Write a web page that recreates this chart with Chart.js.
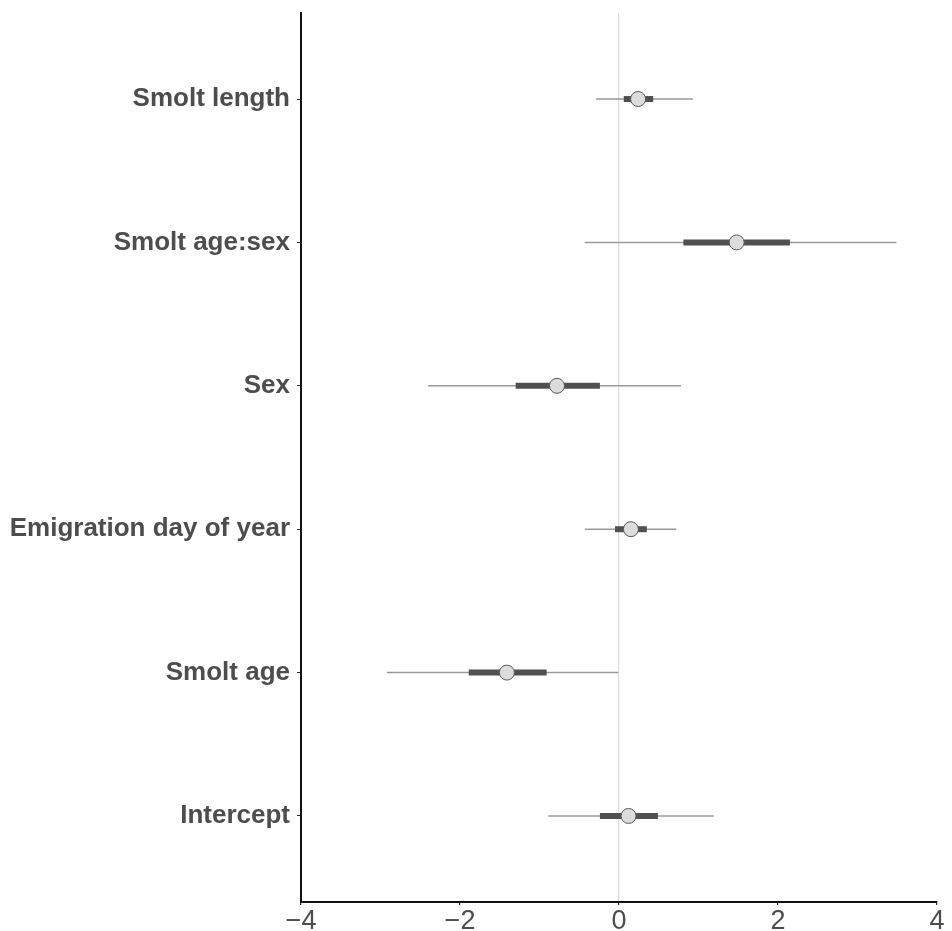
<!DOCTYPE html>
<html>
<head>
<meta charset="utf-8">
<script src="https://cdn.jsdelivr.net/npm/chart.js@4.4.1/dist/chart.umd.min.js"></script>
<style>
  html, body { margin: 0; padding: 0; background: #fff; }
  #wrap { width: 952px; height: 931px; }
</style>
</head>
<body>
<div id="wrap"><canvas id="chart" width="952" height="931"></canvas></div>
<script>
// Coefficient names, bottom to top
const terms = ['Intercept', 'Smolt age', 'Emigration day of year', 'Sex', 'Smolt age:sex', 'Smolt length'];
// Posterior medians
const estimate = [0.12, -1.41, 0.15, -0.78, 1.48, 0.24];
// Inner (thick) interval
const innerLow = [-0.24, -1.89, -0.05, -1.30, 0.81, 0.06];
const innerHigh = [0.49, -0.91, 0.35, -0.24, 2.15, 0.43];
// Outer (thin) interval
const outerLow = [-0.89, -2.92, -0.43, -2.40, -0.43, -0.29];
const outerHigh = [1.19, -0.01, 0.72, 0.78, 3.49, 0.93];
const xTicks = [-4, -2, 0, 2, 4];

const rowPos = terms.map((t, i) => i + 1);

// one line dataset per interval
const outerSets = terms.map((t, i) => ({
  type: 'scatter',
  showLine: true,
  data: [{ x: outerLow[i], y: rowPos[i] }, { x: outerHigh[i], y: rowPos[i] }],
  borderColor: '#9a9a9a',
  borderWidth: 1.5,
  pointRadius: 0,
  order: 2
}));
const innerSets = terms.map((t, i) => ({
  type: 'scatter',
  showLine: true,
  data: [{ x: innerLow[i], y: rowPos[i] }, { x: innerHigh[i], y: rowPos[i] }],
  borderColor: '#505050',
  borderWidth: 6,
  pointRadius: 0,
  order: 1
}));
const pointSet = {
  type: 'scatter',
  data: terms.map((t, i) => ({ x: estimate[i], y: rowPos[i] })),
  backgroundColor: '#dcdcdc',
  borderColor: '#5a5a5a',
  borderWidth: 1,
  pointRadius: 7.5,
  order: 0
};

const textColor = '#4d4d4d';

new Chart(document.getElementById('chart'), {
  type: 'scatter',
  data: { datasets: [...outerSets, ...innerSets, pointSet] },
  options: {
    responsive: false,
    animation: false,
    layout: { padding: { top: 13, right: 15, left: 0, bottom: 0 } },
    plugins: { legend: { display: false }, tooltip: { enabled: false } },
    scales: {
      x: {
        type: 'linear',
        min: -4,
        max: 4,
        afterBuildTicks: (axis) => { axis.ticks = xTicks.map(v => ({ value: v })); },
        afterFit: (scale) => { scale.height = 29; },
        border: { display: true, color: '#111', width: 2 },
        grid: {
          drawOnChartArea: true,
          color: (ctx) => (ctx.tick && ctx.tick.value === 0 ? '#dddddd' : 'rgba(0,0,0,0)'),
          lineWidth: 1.2,
          tickColor: '#333',
          tickLength: 3
        },
        ticks: {
          color: textColor,
          padding: 0,
          font: { family: 'Liberation Sans, Arial, sans-serif', size: 27 },
          callback: (v) => (v < 0 ? '\u2212' + Math.abs(v) : String(v))
        }
      },
      y: {
        type: 'linear',
        min: 0.4,
        max: 6.6,
        afterBuildTicks: (axis) => { axis.ticks = rowPos.map(v => ({ value: v })); },
        afterFit: (scale) => {
          scale.width = 301;
          // labels sit well inside the range, no extra room needed
          scale.paddingTop = 0;
          scale.paddingBottom = 0;
        },
        border: { display: true, color: '#111', width: 2 },
        grid: {
          drawOnChartArea: false,
          tickColor: '#333',
          tickLength: 4
        },
        ticks: {
          color: textColor,
          padding: 7,
          font: { family: 'Liberation Sans, Arial, sans-serif', size: 26, weight: 'bold' },
          callback: (v) => terms[rowPos.indexOf(v)]
        }
      }
    }
  }
});
</script>
</body>
</html>
